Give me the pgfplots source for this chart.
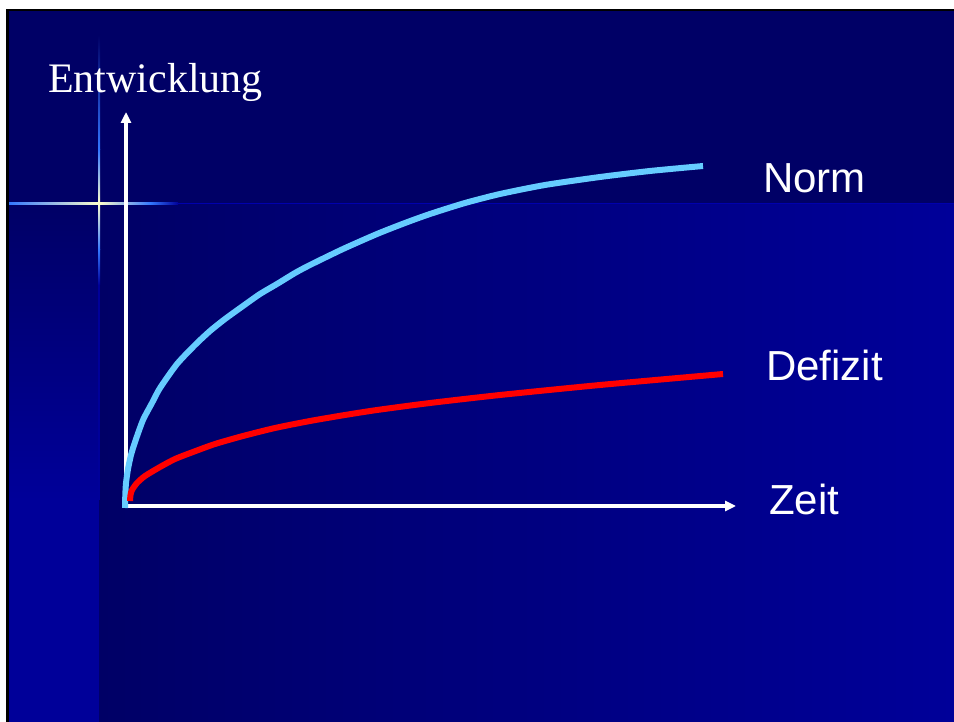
\documentclass[border=0pt]{standalone}
\usepackage{fontspec}
\setmainfont{Liberation Serif}
\setsansfont{Liberation Sans}
\usepackage{pgfplots}
\pgfplotsset{compat=1.18}
\usetikzlibrary{arrows.meta}
\definecolor{navy}{HTML}{000066}
\definecolor{slideblue}{HTML}{000099}
\definecolor{flareblue}{HTML}{3377FF}
\definecolor{flarecore}{HTML}{FFFFCC}
\definecolor{normblue}{HTML}{66CCFF}

\begin{document}
\begin{tikzpicture}
  % slide background, in pixel units (origin top left)
  \begin{scope}[x=1bp,y=-1bp,yshift=722bp]
    \path[use as bounding box] (0,0) rectangle (954,722);
    \fill[white] (0,0) rectangle (954,722);
    \fill[black] (6,9) rectangle (954,722);
    \fill[navy] (9,11) rectangle (954,205);
    \shade[left color=navy,right color=slideblue] (99,204) rectangle (954,722);
    \shade[top color=navy,bottom color=slideblue] (9,204) rectangle (99,500);
    \fill[slideblue] (9,499) rectangle (99,722);
    % flare
    \draw[line width=1.5bp,color=slideblue!80!blue] (175,203.5) -- (954,203.5);
    \shade[left color=flareblue,right color=flarecore] (9,202.5) rectangle (99,204.5);
    \shade[left color=flarecore,right color=flareblue] (99,202.5) rectangle (150,204.5);
    \shade[left color=flareblue,right color=slideblue] (150,202.5) rectangle (178,204.5);
    \shade[top color=navy,bottom color=flareblue] (98,35) rectangle (100,150);
    \shade[top color=flareblue,bottom color=flarecore] (98,150) rectangle (100,203);
    \shade[top color=flarecore,bottom color=flareblue] (98,203) rectangle (100,250);
    \shade[top color=flareblue,bottom color=slideblue] (98,250) rectangle (100,285);
    \fill[slideblue] (98,285) rectangle (100,500);
    % labels
    \node[anchor=base west,inner sep=0,text=white,font=\fontsize{42bp}{50bp}\selectfont] at (48,93) {Entwicklung};
    \node[anchor=base west,inner sep=0,text=white,font=\sffamily\fontsize{42bp}{50bp}\selectfont] at (763,193) {Norm};
    \node[anchor=base west,inner sep=0,text=white,font=\sffamily\fontsize{42bp}{50bp}\selectfont] at (766,381) {Defizit};
    \node[anchor=base west,inner sep=0,text=white,font=\sffamily\fontsize{42bp}{50bp}\selectfont] at (769,515) {Zeit};
  \end{scope}
  \begin{axis}[
      at={(0,0)},anchor=south west,
      scale only axis,width=954bp,height=722bp,
      xmin=-125,xmax=829,ymin=-217,ymax=505,
      hide axis,clip=false]
    % axes with arrows
    \draw[white,line width=3.5bp,-{Triangle[length=11bp,width=10bp]}] (axis cs:1,-2) -- (axis cs:1,393);
    \draw[white,line width=3.5bp,-{Triangle[length=11bp,width=10bp]}] (axis cs:-1,-1) -- (axis cs:611,-1);
    % Norm
    \addplot[normblue,line width=6bp,smooth,tension=0.4] coordinates {
      (0,-3) (0.3,10) (1,22) (3,36) (6,50) (10,63) (18,85) (27,102)
      (35,117) (52,141) (70,160) (85,174) (100,186) (118,199) (135,211)
      (152,221) (170,232) (185,240) (218,256) (252,271) (280,282)
      (305,291) (340,302) (375,311) (420,320) (475,328) (525,334) (578,339)};
    % Defizit
    \addplot[red,line width=6bp,smooth,tension=0.4] coordinates {
      (5,4) (5.5,10) (7,15) (12,22) (20,29) (35,38) (50,46) (68,53)
      (90,61) (118,69) (150,77) (185,84) (220,90) (252,95) (305,102)
      (375,110) (475,120) (598,131)};
  \end{axis}
\end{tikzpicture}
\end{document}
